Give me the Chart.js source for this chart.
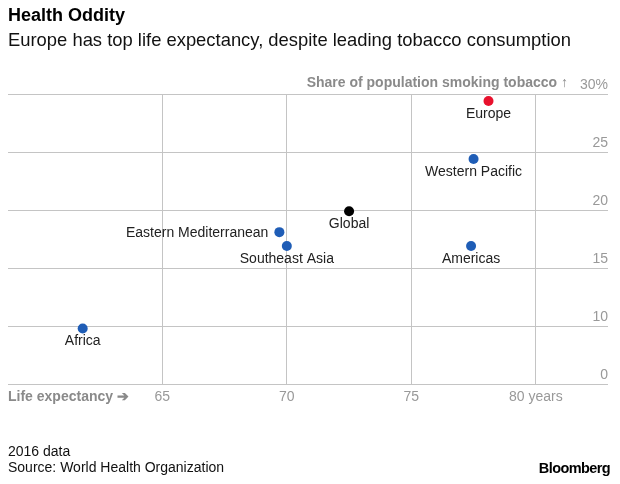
<!DOCTYPE html>
<html><head><meta charset="utf-8">
<script src="https://cdn.jsdelivr.net/npm/chart.js@4"></script>
<style>
html,body{margin:0;padding:0;background:#fff;}
body{width:620px;height:484px;position:relative;overflow:hidden;font-family:"Liberation Sans",Arial,sans-serif;}
.t{position:absolute;white-space:nowrap;}
#title{left:8px;top:5px;font-size:18px;font-weight:bold;color:#000;}
#sub{left:8px;top:29px;font-size:18.4px;color:#111;}
#ytitle{right:52px;top:74px;font-size:14px;font-weight:bold;color:#8a8a8a;}
#xtitle{left:8px;top:388px;font-size:14px;font-weight:bold;color:#8a8a8a;}
#f1{left:8px;top:443px;font-size:14px;color:#111;}
#f2{left:8px;top:459px;font-size:14px;color:#111;}
#logo{right:10px;top:460px;font-size:14.5px;font-weight:bold;color:#000;letter-spacing:-0.6px;}
#wrap{position:absolute;left:0;top:0;width:620px;height:484px;}
</style>
</head><body>
<div id="wrap"><canvas id="c" width="620" height="484"></canvas></div>
<div class="t" id="title">Health Oddity</div>
<div class="t" id="sub">Europe has top life expectancy, despite leading tobacco consumption</div>
<div class="t" id="ytitle">Share of population smoking tobacco ↑</div>
<div class="t" id="xtitle">Life expectancy ➔</div>
<div class="t" id="f1">2016 data</div>
<div class="t" id="f2">Source: World Health Organization</div>
<div class="t" id="logo">Bloomberg</div>
<script>
const regions = ['Africa','Eastern Mediterranean','Southeast Asia','Global','Americas','Western Pacific','Europe'];
const lifeExpectancy = [61.8, 69.7, 70.0, 72.5, 77.4, 77.5, 78.1];
const smokingShare = [9.8, 18.1, 16.9, 19.9, 16.9, 24.4, 29.4];
const xTickValues = [65, 70, 75, 80];
const xTickLabels = ['65', '70', '75', '80 years'];
const yTickValues = [5, 10, 15, 20, 25, 30];
const yTickLabels = ['0', '10', '15', '20', '25', '30%'];

const colorFor = {Europe:'#e8112d', Global:'#000000'};
const defaultColor = '#1f5db6';
const leftLabelled = ['Eastern Mediterranean'];

const labelPlugin = {
  id:'pointLabels',
  afterDatasetsDraw(chart){
    const ctx = chart.ctx;
    const meta = chart.getDatasetMeta(0);
    ctx.save();
    ctx.font = '14px "Liberation Sans", Arial, sans-serif';
    ctx.fillStyle = '#222';
    meta.data.forEach((pt, i) => {
      const name = regions[i];
      if (leftLabelled.includes(name)) {
        ctx.textAlign = 'right';
        ctx.textBaseline = 'middle';
        ctx.fillText(name, pt.x - 11, pt.y + 1);
      } else {
        ctx.textAlign = 'center';
        ctx.textBaseline = 'alphabetic';
        ctx.fillText(name, pt.x, pt.y + 17);
      }
    });
    ctx.restore();
  }
};

new Chart(document.getElementById('c'), {
  type:'scatter',
  data:{
    datasets:[{
      data: regions.map((r,i)=>({x:lifeExpectancy[i], y:smokingShare[i]})),
      backgroundColor: regions.map(r => colorFor[r] || defaultColor),
      borderWidth:0,
      pointRadius:5,
      pointHoverRadius:5
    }]
  },
  options:{
    responsive:false,
    animation:false,
    events:[],
    layout:{padding:{left:8, right:12, top:94, bottom:73}},
    plugins:{legend:{display:false}, tooltip:{enabled:false}},
    scales:{
      x:{
        type:'linear', min:58.8, max:82.9,
        afterBuildTicks(axis){ axis.ticks = xTickValues.map(v=>({value:v})); },
        grid:{color:'#c4c4c4', drawTicks:false, lineWidth:1},
        border:{display:false},
        ticks:{
          autoSkip:false, maxRotation:0, padding:5,
          color:'#999', font:{size:14, family:'"Liberation Sans", Arial, sans-serif'},
          callback:(v,i)=>xTickLabels[i]
        }
      },
      y:{
        type:'linear', position:'right', min:5, max:30,
        afterBuildTicks(axis){ axis.ticks = yTickValues.map(v=>({value:v})); },
        grid:{color:'#c4c4c4', drawTicks:false, lineWidth:1},
        border:{display:false},
        ticks:{
          mirror:true, padding:0, labelOffset:-9,
          color:'#999', font:{size:14, family:'"Liberation Sans", Arial, sans-serif'},
          callback:(v,i)=>yTickLabels[i]
        }
      }
    }
  },
  plugins:[labelPlugin]
});
</script>
</body></html>
